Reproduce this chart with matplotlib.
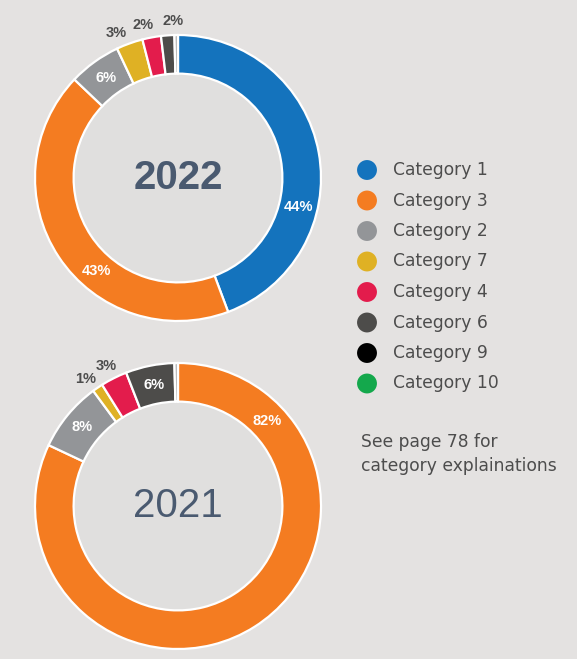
import numpy as np
import matplotlib.pyplot as plt
from matplotlib.patches import Circle

plt.rcParams["font.family"] = ["Liberation Sans", "DejaVu Sans"]

BG = "#e4e2e1"
HOLE = "#e0dfde"
YEAR = "#4a5a70"
INK = "#4d4d4d"

# colour per category (legend order)
legend_cats = ["Category 1", "Category 3", "Category 2", "Category 7",
               "Category 4", "Category 6", "Category 9", "Category 10"]
cat_colors = {
    "Category 1": "#1473bd",
    "Category 3": "#f47c21",
    "Category 2": "#939598",
    "Category 7": "#dfb124",
    "Category 4": "#e31c4c",
    "Category 6": "#4d4c4a",
    "Category 9": "#000000",
    "Category 10": "#14a84c",
    "Other": "#b4b4b4",
}

cats_2022 = ["Category 1", "Category 3", "Category 2", "Category 7",
             "Category 4", "Category 6", "Other"]
vals_2022 = [44.3, 42.8, 5.9, 3.0, 2.1, 1.5, 0.4]
labels_2022 = ["44%", "43%", "6%", "3%", "2%", "2%", ""]

cats_2021 = ["Category 3", "Category 2", "Category 7", "Category 4",
             "Category 6", "Other"]
vals_2021 = [82.0, 7.9, 1.2, 3.0, 5.5, 0.4]
labels_2021 = ["82%", "8%", "1%", "3%", "6%", ""]

W, H = 577, 659
R_PX = 143
RING = 0.27


def donut(cx, cy, cats, vals, labels, year, bold, outside, frac):
    ax = fig.add_axes([(cx - R_PX) / W, (H - cy - R_PX) / H, 2 * R_PX / W, 2 * R_PX / H])
    ax.add_patch(Circle((0, 0), 1 - RING, color=HOLE, zorder=0))
    ax.pie(vals, colors=[cat_colors[c] for c in cats], startangle=90,
           counterclock=False, radius=1,
           wedgeprops=dict(width=RING, edgecolor="white", linewidth=1.6))
    ax.set_xlim(-1.0, 1.0)
    ax.set_ylim(-1.0, 1.0)
    ax.axis("off")
    total = sum(vals)
    start = 0.0
    for i, (v, lab) in enumerate(zip(vals, labels)):
        # frac: where along the wedge the label sits (0 = start, 1 = end)
        f = frac.get(i, 0.5)
        pos = (start + v * f) / total
        start += v
        if not lab:
            continue
        ang = np.deg2rad(90 - pos * 360)
        if i in outside:
            r, col = 1.1, INK
        else:
            r, col = 1 - RING / 2, "white"
        ax.text(r * np.cos(ang), r * np.sin(ang), lab, ha="center", va="center",
                color=col, fontsize=10.5, fontweight="bold")
    ax.text(0, 0, year, ha="center", va="center", color=YEAR, fontsize=29,
            fontweight="bold" if bold else "normal")


fig = plt.figure(figsize=(W / 100, H / 100), dpi=100, facecolor=BG)

donut(178, 178, cats_2022, vals_2022, labels_2022, "2022", True,
      outside={3, 4, 5}, frac={0: 0.65, 1: 0.40, 3: 0.2, 4: 0.2, 5: 0.95})
donut(178, 506, cats_2021, vals_2021, labels_2021, "2021", False,
      outside={2, 3}, frac={0: 0.157, 2: 0.1, 3: 0.45})

# legend and note, drawn in pixel coordinates
lg = fig.add_axes([0, 0, 1, 1], facecolor="none")
lg.set_xlim(0, W)
lg.set_ylim(H, 0)
lg.axis("off")
for i, c in enumerate(legend_cats):
    y = 170 + i * 30.5
    lg.scatter(367, y, s=205, color=cat_colors[c], edgecolors="none")
    lg.text(393, y, c, ha="left", va="center", fontsize=12.3, color=INK,
            family="DejaVu Sans")

lg.text(361, 454, "See page 78 for\ncategory explainations", ha="left", va="center",
        fontsize=12.3, color=INK, linespacing=1.45, family="DejaVu Sans")

fig.savefig("out.png", dpi=100, facecolor=BG)
